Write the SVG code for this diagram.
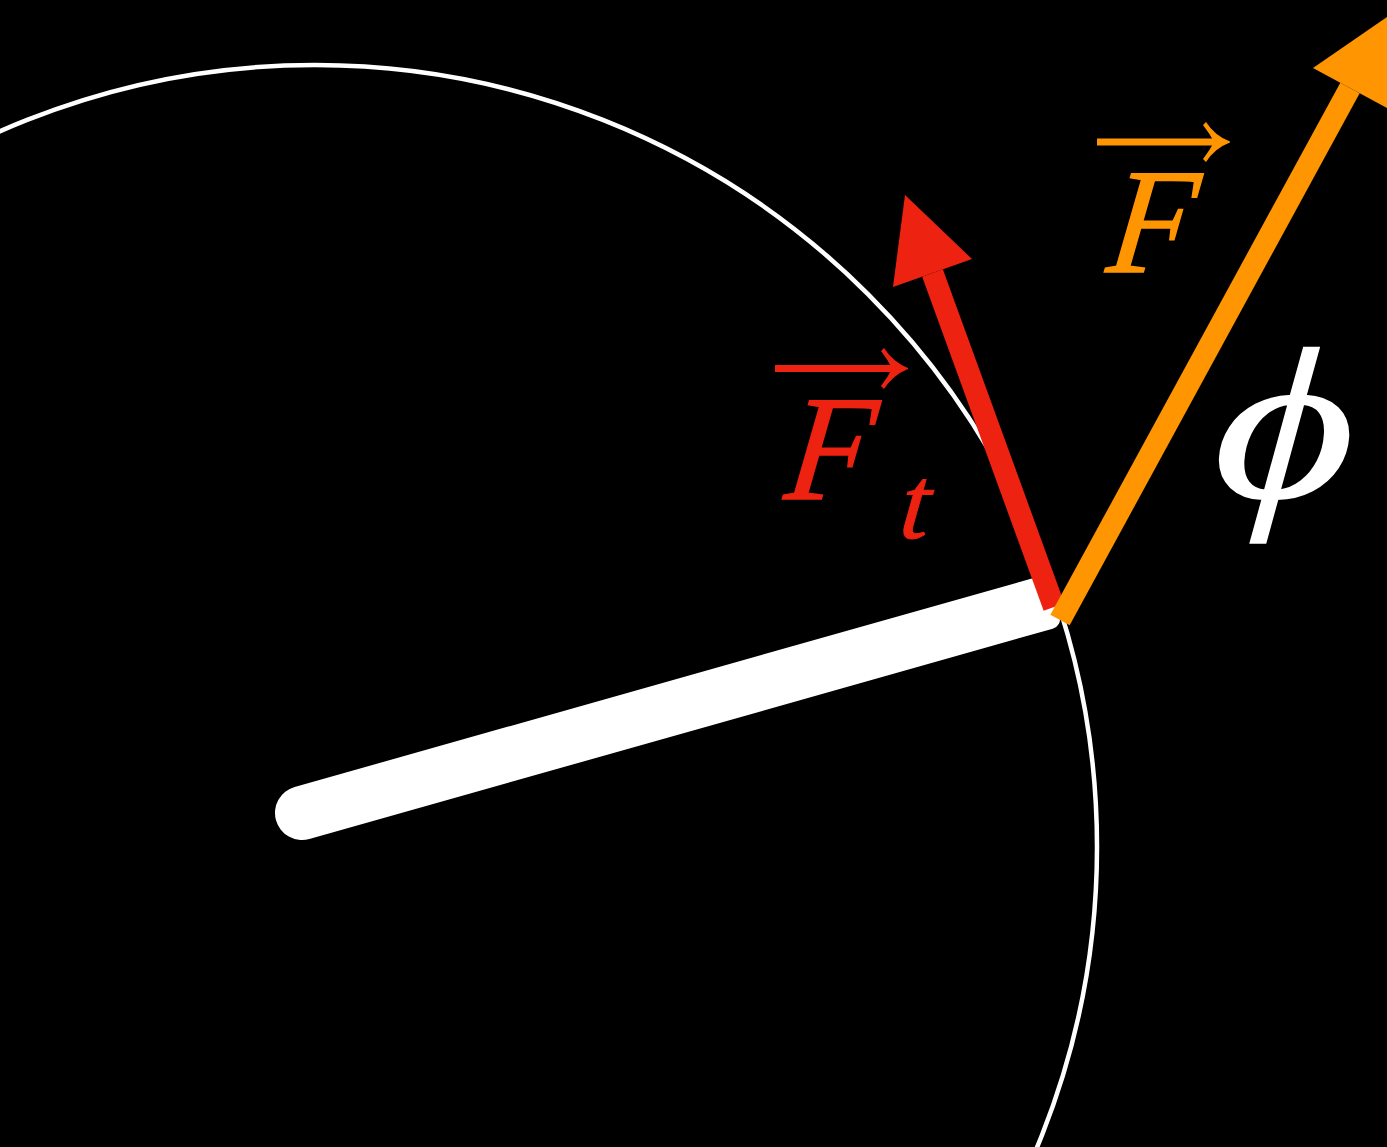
<svg xmlns="http://www.w3.org/2000/svg" width="1387" height="1147" viewBox="0 0 1387 1147">
<style>
.lbl{font-family:"Liberation Serif","Times New Roman",serif;font-style:italic;}
</style>
<rect width="1387" height="1147" fill="#000"/>
<g id="circle"><circle cx="315" cy="847" r="782" fill="none" stroke="#fff" stroke-width="4.5"/></g>
<g id="rod"><path d="M294.65,787 L1038.03,576.72 A10,10 0 0 1 1050.37,583.62 L1059.63,616.38 A10,10 0 0 1 1052.73,628.72 L309.35,839 A27,27 0 0 1 294.65,787 Z" fill="#fff"/></g>
<g id="connectors">
<g id="force-t">
<line x1="1054" y1="607" x2="932.5" y2="273" stroke="#ee2211" stroke-width="22"/>
<polygon points="905,195 972,259 893,287" fill="#ee2211"/>
</g>
<g id="force">
<line x1="1060" y1="620" x2="1350" y2="88" stroke="#ff9500" stroke-width="22"/>
<polygon points="1390,15 1387,108 1313,68" fill="#ff9500"/>
</g>
</g>
<g id="label-F">
<path d="M1097,138.5 H1222 V145.5 H1097 Z" fill="#ff9500"/>
<path d="M1203,125 L1206,122 Q1215,136 1230,141.5 L1230,142.5 Q1215,148 1206,162 L1203,159 Q1210,150 1214,142 Q1210,134 1203,125 Z" fill="#ff9500"/>
<text class="lbl" transform="translate(1105,272) skewX(-7) scale(0.93,1)" font-size="150" fill="#ff9500" stroke="#ff9500" stroke-width="1.5">F</text>
</g>
<g id="label-Ft">
<path d="M775,365 H900 V372 H775 Z" fill="#ee2211"/>
<path d="M881,351 L884,348 Q893,362 908,368 L908,369 Q893,375 884,389 L881,386 Q888,377 892,368.5 Q888,360 881,351 Z" fill="#ee2211"/>
<text class="lbl" transform="translate(783,499) skewX(-7) scale(0.93,1)" font-size="150" fill="#ee2211" stroke="#ee2211" stroke-width="1.5">F</text>
<text class="lbl" transform="translate(898,538) skewX(-6)" font-size="104" fill="#ee2211" stroke="#ee2211" stroke-width="1">t</text>
</g>
<g id="label-phi">
<text class="lbl" transform="translate(1212,497) skewX(-3) scale(1.25,1)" font-size="215" fill="#fff" stroke="#fff" stroke-width="2">ϕ</text>
</g>
</svg>
